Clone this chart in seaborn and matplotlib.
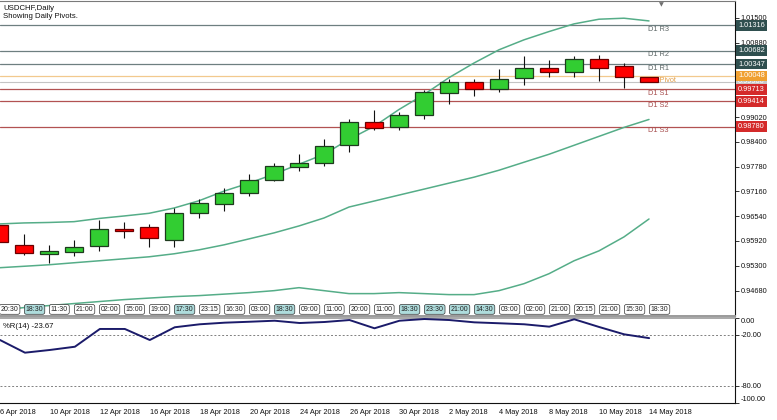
import numpy as np
import pandas as pd
import matplotlib
matplotlib.use("Agg")
import matplotlib.pyplot as plt
import seaborn as sns

# USDCHF daily candles, 6 Apr 2018 .. 14 May 2018
days = ["2018-04-06", "2018-04-09", "2018-04-10", "2018-04-11", "2018-04-12", "2018-04-13",
        "2018-04-16", "2018-04-17", "2018-04-18", "2018-04-19", "2018-04-20", "2018-04-23",
        "2018-04-24", "2018-04-25", "2018-04-26", "2018-04-27", "2018-04-30", "2018-05-01",
        "2018-05-02", "2018-05-03", "2018-05-04", "2018-05-07", "2018-05-08", "2018-05-09",
        "2018-05-10", "2018-05-11", "2018-05-14"]
opens = [0.96321, 0.95830, 0.95591, 0.95641, 0.95805, 0.96221, 0.96264, 0.95955, 0.96612,
         0.96836, 0.97110, 0.97441, 0.97782, 0.97865, 0.98330, 0.98903, 0.98778, 0.99067,
         0.99625, 0.99889, 0.99725, 0.99989, 1.00248, 1.00148, 1.00472, 1.00305, 1.00010]
highs = [0.96371, 0.96097, 0.95823, 0.95955, 0.96453, 0.96388, 0.96353, 0.96744, 0.96968,
         0.97235, 0.97591, 0.97865, 0.98089, 0.98480, 0.98960, 0.99192, 0.99152, 0.99707,
         0.99981, 0.99981, 1.00223, 1.00554, 1.00454, 1.00554, 1.00579, 1.00383, 1.00022]
lows = [0.95823, 0.95581, 0.95375, 0.95556, 0.95681, 0.95990, 0.95766, 0.95781, 0.96488,
        0.96662, 0.97050, 0.97424, 0.97673, 0.97797, 0.98146, 0.98694, 0.98694, 0.98978,
        0.99359, 0.99540, 0.99640, 0.99814, 1.00014, 1.00014, 0.99914, 0.99749, 0.99890]
closes = [0.95898, 0.95616, 0.95681, 0.95766, 0.96221, 0.96179, 0.95990, 0.96612, 0.96869,
          0.97118, 0.97449, 0.97797, 0.97882, 0.98295, 0.98903, 0.98736, 0.99060, 0.99650,
          0.99889, 0.99725, 0.99981, 1.00255, 1.00138, 1.00472, 1.00248, 1.00012, 0.99900]

# Bollinger bands
bb_upper = [0.96346, 0.96371, 0.96383, 0.96403, 0.96483, 0.96545, 0.96612, 0.96744, 0.96926,
            0.97167, 0.97367, 0.97591, 0.97840, 0.98089, 0.98462, 0.98786, 0.99209, 0.99583,
            1.00006, 1.00372, 1.00703, 1.00952, 1.01159, 1.01351, 1.01468, 1.01493, 1.01425]
bb_mid = [0.95250, 0.95287, 0.95325, 0.95375, 0.95424, 0.95474, 0.95524, 0.95599, 0.95698,
          0.95823, 0.95972, 0.96122, 0.96296, 0.96495, 0.96769, 0.96918, 0.97068, 0.97217,
          0.97367, 0.97516, 0.97690, 0.97890, 0.98089, 0.98313, 0.98537, 0.98761, 0.98960]
bb_lower = [0.94179, 0.94254, 0.94304, 0.94354, 0.94404, 0.94453, 0.94491, 0.94528, 0.94553,
            0.94590, 0.94628, 0.94677, 0.94752, 0.94677, 0.94603, 0.94603, 0.94628, 0.94603,
            0.94578, 0.94578, 0.94677, 0.94852, 0.95101, 0.95424, 0.95673, 0.96022, 0.96470]

# Williams %R(14)
wpr = [-25.9, -40.8, -37.6, -33.8, -12.9, -12.9, -25.9, -10.9, -7.4, -5.5, -4.4, -3.2, -5.9,
       -4.7, -2.4, -12.1, -3.2, -1.2, -2.4, -5.1, -6.2, -7.4, -10.2, -1.5, -10.6, -19.2, -23.67]

# time stamps shown in the little boxes under the candles
time_labels = ["20:30", "18:30", "11:30", "21:00", "02:00", "15:00", "19:00", "17:30", "23:15",
               "16:30", "03:00", "18:30", "09:00", "11:00", "20:00", "11:00", "18:30", "23:30",
               "21:00", "14:30", "03:00", "02:00", "21:00", "20:15", "21:00", "15:30", "18:30"]
time_marked = [1, 7, 11, 16, 17, 18, 19]

# daily pivots
pivot_names = ["D1 R3", "D1 R2", "D1 R1", "D1 Pivot", "D1 S1", "D1 S2", "D1 S3"]
pivot_levels = [1.01316, 1.00682, 1.00347, 1.00048, 0.99713, 0.99414, 0.98780]
last_price = 0.99900

price_ticks = [1.01500, 1.00880, 0.99020, 0.98400, 0.97780, 0.97160, 0.96540, 0.95920,
               0.95300, 0.94680]
wpr_ticks = [0, -20, -80, -100]

df = pd.DataFrame({"i": np.arange(len(days)), "date": pd.to_datetime(days),
                   "open": opens, "high": highs, "low": lows, "close": closes,
                   "bb_upper": bb_upper, "bb_mid": bb_mid, "bb_lower": bb_lower, "wpr": wpr})

sns.set_style("white")
plt.rcParams["font.family"] = ["Liberation Sans", "DejaVu Sans"]
fs = 5.3

fig = plt.figure(figsize=(7.77, 4.2), dpi=100)
ax = fig.add_axes([0, 0.24762, 0.94595, 0.74881])
axr = fig.add_axes([0, 0.04048, 0.94595, 0.20238])

band_color = "#55AD88"
for col in ["bb_upper", "bb_mid", "bb_lower"]:
    sns.lineplot(data=df, x="i", y=col, ax=ax, color=band_color, lw=1.1, zorder=2)

# pivot lines + labels
r_col, s_col = "#6E7F80", "#B25252"
line_cols = [r_col, r_col, r_col, "#F2C98E", s_col, s_col, s_col]
text_cols = ["#5E6868", "#5E6868", "#5E6868", "#E3A04A", "#A85050", "#A85050", "#A85050"]
box_cols = ["#2F4F4F", "#2F4F4F", "#2F4F4F", "#F0A030", "#D42A2A", "#D42A2A", "#D42A2A"]
ax.axhline(last_price, color="#C4C4C4", lw=0.8, zorder=1)
for name, lvl, lc, tc in zip(pivot_names, pivot_levels, line_cols, text_cols):
    ax.axhline(lvl, color=lc, lw=0.9, zorder=1)
    ax.annotate(name, xy=(25.96, lvl), xytext=(0, -0.6), textcoords="offset points",
                ha="left", va="top", fontsize=fs, color=tc, zorder=3)

# candles
up = df["close"] >= df["open"]
ax.vlines(df["i"], df["low"], df["high"], color="#111111", lw=0.8, zorder=4)
ax.bar(df["i"], (df["close"] - df["open"]).abs(), bottom=df[["open", "close"]].min(axis=1),
       width=0.7, color=np.where(up, "#32CD32", "#FF0000"),
       edgecolor=np.where(up, "#1E3A1E", "#6A0000"), linewidth=0.9, zorder=5)

# time boxes
for i, lab in enumerate(time_labels):
    ax.text(i + 0.07, 0.021, lab, transform=ax.get_xaxis_transform(), ha="left", va="center",
            fontsize=5.0, color="#222222", zorder=6,
            bbox=dict(boxstyle="round,pad=0.2,rounding_size=0.3",
                      fc="#AEDCDC" if i in time_marked else "white", ec="#333333", lw=0.5))

# price boxes on the right scale
ytf = ax.get_yaxis_transform()
ax.text(1.004, last_price, f"{last_price:.5f}", transform=ytf, ha="left", va="center",
        fontsize=fs, color="white", zorder=7,
        bbox=dict(boxstyle="square,pad=0.25", fc="#C8C8C8", ec="none"))
for lvl, bc in zip(pivot_levels, box_cols):
    ax.text(1.004, lvl, f"{lvl:.5f}", transform=ytf, ha="left", va="center", fontsize=fs,
            color="white", zorder=8, bbox=dict(boxstyle="square,pad=0.25", fc=bc, ec="none"))

# chart shift marker
ax.text(26.48, 0.999, "\u25bc", transform=ax.get_xaxis_transform(), ha="center", va="top",
        fontsize=4.5, color="#707070", family="DejaVu Sans")

ax.set_xlim(0.04, 29.44)
ax.set_ylim(0.94043, 1.01911)
ax.set_xticks([])
ax.yaxis.tick_right()
ax.set_yticks(price_ticks)
ax.yaxis.set_major_formatter("{x:.5f}")
ax.tick_params(axis="y", labelsize=fs, length=3, width=0.6, pad=1, colors="#111111")
ax.set_xlabel("")
ax.set_ylabel("")
ax.spines["left"].set_visible(False)
ax.spines["top"].set_color("#7A7A7A")
ax.spines["bottom"].set_color("#9A9A9A")
ax.spines["bottom"].set_linewidth(1.4)
ax.spines["right"].set_color("#111111")
ax.spines["right"].set_linewidth(0.8)

fig.text(3 / 777, 1 - 8 / 420, "USDCHF,Daily", fontsize=5.6, va="center", color="#111111")
fig.text(3 / 777, 1 - 17 / 420, "Showing Daily Pivots.", fontsize=5.6, va="center", color="#111111")

# %R panel
sns.lineplot(data=df, x="i", y="wpr", ax=axr, color="#1B1B6A", lw=1.4, zorder=3)
for lvl in [-20, -80]:
    axr.axhline(lvl, color="#808080", lw=0.7, ls=(0, (2, 2)), zorder=1)
axr.text(3 / 735, 0.9, "%R(14) -23.67", transform=axr.transAxes, fontsize=5.6,
         va="center", ha="left", color="#111111")
axr.set_xlim(0.04, 29.44)
axr.set_ylim(-100, 0)
axr.yaxis.tick_right()
axr.set_yticks(wpr_ticks)
axr.set_yticklabels([f"{v:.2f}" for v in wpr_ticks])
ylabs = axr.get_yticklabels()
ylabs[0].set_va("top")
ylabs[-1].set_va("bottom")
axr.tick_params(axis="y", labelsize=fs, length=3, width=0.6, pad=1, colors="#111111")
date_idx = df["i"][::2]
axr.set_xticks(date_idx)
axr.set_xticklabels([f"{d.day} {d:%b %Y}" for d in df["date"][::2]], ha="left")
axr.tick_params(axis="x", labelsize=fs, length=3, width=0.6, pad=1.5, colors="#111111")
axr.set_xlabel("")
axr.set_ylabel("")
axr.spines["left"].set_visible(False)
axr.spines["top"].set_color("#9A9A9A")
axr.spines["top"].set_linewidth(1.2)
axr.spines["bottom"].set_color("#111111")
axr.spines["bottom"].set_linewidth(0.8)
axr.spines["right"].set_color("#111111")
axr.spines["right"].set_linewidth(0.8)

fig.savefig("out.png", dpi=100)
